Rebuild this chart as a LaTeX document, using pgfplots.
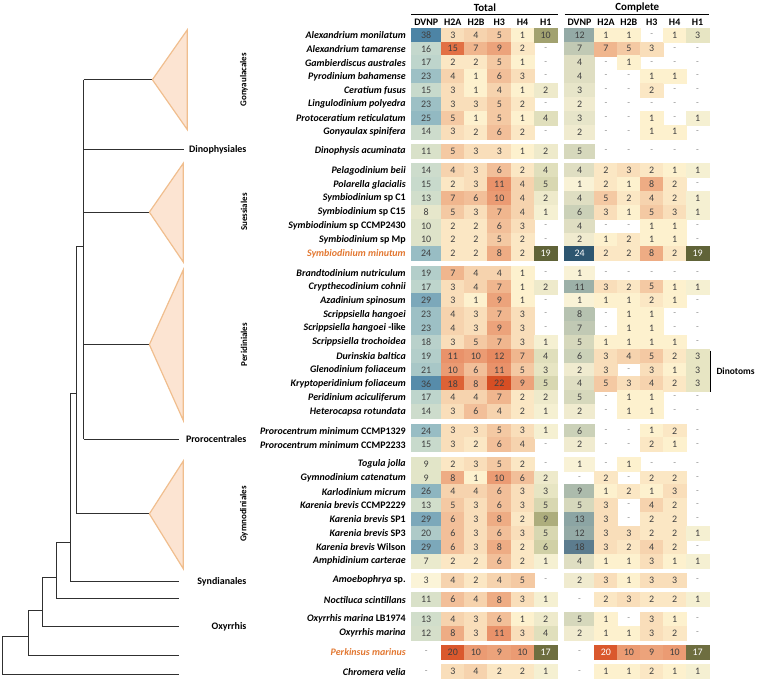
\documentclass[border=0pt]{standalone}
\usepackage{fontspec}
\setmainfont{Carlito}
\usepackage{pgfplots}
\usepackage{pgfplotstable}
\pgfplotsset{compat=1.18}

\definecolor{numc}{HTML}{404040}
\definecolor{dashc}{HTML}{8A8A8A}
\definecolor{hl}{RGB}{226,120,50}
\definecolor{tri}{HTML}{FCE4D2}
\definecolor{triedge}{HTML}{F0BE8E}
\definecolor{treec}{HTML}{303030}

\pgfplotsset{
  colormap={dvnpT}{rgb255(3)=(251,244,216) rgb255(9)=(226,229,200) rgb255(16)=(196,216,205) rgb255(24)=(152,189,196) rgb255(30)=(118,164,184) rgb255(38)=(77,132,165)},
  colormap={dvnpC}{rgb255(1)=(249,242,214) rgb255(5)=(214,216,188) rgb255(9)=(172,187,172) rgb255(13)=(140,165,164) rgb255(18)=(92,124,142) rgb255(24)=(46,86,112)},
  colormap={hist}{rgb255(1)=(253,241,206) rgb255(3)=(249,222,186) rgb255(5)=(244,201,163) rgb255(8)=(238,172,132) rgb255(11)=(233,146,106) rgb255(15)=(226,112,68) rgb255(20)=(218,88,45) rgb255(22)=(214,78,36)},
  colormap={hone}{rgb255(1)=(245,240,210) rgb255(4)=(224,223,188) rgb255(6)=(208,208,166) rgb255(10)=(162,162,112) rgb255(17)=(110,110,64) rgb255(19)=(96,99,56)},
}

% 0 stands for "-"
\pgfplotstableread[col sep=comma]{
pos,tD,t2A,t2B,t3,t4,t1,cD,c2A,c2B,c3,c4,c1,name
0,38,3,4,5,1,10,12,1,1,0,1,3,\textit{Alexandrium monilatum}
1,16,15,7,9,2,0,7,7,5,3,0,0,\textit{Alexandrium tamarense}
2,17,2,2,5,1,0,4,0,1,0,0,0,\textit{Gambierdiscus australes}
3,23,4,1,6,3,0,4,0,0,1,1,0,\textit{Pyrodinium bahamense}
4,15,3,1,4,1,2,3,0,0,2,0,0,\textit{Ceratium fusus}
5,23,3,3,5,2,0,2,0,0,0,0,0,\textit{Lingulodinium polyedra}
6,25,5,1,5,1,4,3,0,0,1,0,1,\textit{Protoceratium reticulatum}
7,14,3,2,6,2,0,2,0,0,1,1,0,\textit{Gonyaulax spinifera}
8.4,11,5,3,3,1,2,5,0,0,0,0,0,\textit{Dinophysis acuminata}
9.8,14,4,3,6,2,4,4,2,3,2,1,1,\textit{Pelagodinium beii}
10.8,15,2,3,11,4,5,1,2,1,8,2,0,\textit{Polarella glacialis}
11.8,13,7,6,10,4,2,4,5,2,4,2,1,\textit{Symbiodinium} sp C1
12.8,8,5,3,7,4,1,6,3,1,5,3,1,\textit{Symbiodinium} sp C15
13.8,10,2,2,6,3,0,4,0,0,1,1,0,\textit{Symbiodinium} sp CCMP2430
14.8,10,2,2,5,2,0,2,1,2,1,1,0,\textit{Symbiodinium} sp Mp
15.8,24,2,2,8,2,19,24,2,2,8,2,19,\textcolor{hl}{\textit{Symbiodinium minutum}}
17.2,19,7,4,4,1,0,1,0,0,0,0,0,\textit{Brandtodinium nutriculum}
18.2,17,3,4,7,1,2,11,3,2,5,1,1,\textit{Crypthecodinium cohnii}
19.2,29,3,1,9,1,0,1,1,1,2,1,0,\textit{Azadinium spinosum}
20.2,23,4,3,7,3,0,8,0,1,1,0,0,\textit{Scrippsiella hangoei}
21.2,23,4,3,9,3,0,7,0,1,1,0,0,\textit{Scrippsiella hangoei} -like
22.2,18,3,5,7,3,1,5,1,1,1,1,0,\textit{Scrippsiella trochoidea}
23.2,19,11,10,12,7,4,6,3,4,5,2,3,\textit{Durinskia baltica}
24.2,21,10,6,11,5,3,2,3,0,3,1,3,\textit{Glenodinium foliaceum}
25.2,36,18,8,22,9,5,4,5,3,4,2,3,\textit{Kryptoperidinium foliaceum}
26.2,17,4,4,7,2,2,5,0,1,1,0,0,\textit{Peridinium aciculiferum}
27.2,14,3,6,4,2,1,2,0,1,1,0,0,\textit{Heterocapsa rotundata}
28.6,24,3,3,5,3,1,6,0,0,1,2,0,\textit{Prorocentrum minimum} CCMP1329
29.6,15,3,2,6,4,0,2,0,0,2,1,0,\textit{Prorocentrum minimum} CCMP2233
31,9,2,3,5,2,0,1,0,1,0,0,0,\textit{Togula jolla}
32,9,8,1,10,6,2,0,2,0,2,2,0,\textit{Gymnodinium catenatum}
33,26,4,4,6,3,3,9,1,2,1,3,0,\textit{Karlodinium micrum}
34,13,5,3,6,3,5,5,3,0,4,2,0,\textit{Karenia brevis} CCMP2229
35,29,6,3,8,2,9,13,3,0,2,2,0,\textit{Karenia brevis} SP1
36,20,6,3,6,3,5,12,3,3,2,2,1,\textit{Karenia brevis} SP3
37,29,6,3,8,2,6,18,3,2,4,2,0,\textit{Karenia brevis} Wilson
38,7,2,2,6,2,1,4,1,1,3,1,1,\textit{Amphidinium carterae}
39.4,3,4,2,4,5,0,2,3,1,3,3,0,\textit{Amoebophrya} sp.
40.8,11,6,4,8,3,1,0,2,3,2,2,1,\textit{Noctiluca scintillans}
42.2,13,4,3,6,1,2,5,1,0,3,1,0,\textit{Oxyrrhis marina} LB1974
43.2,12,8,3,11,3,4,2,1,1,3,2,0,\textit{Oxyrrhis marina}
44.6,0,20,10,9,10,17,0,20,10,9,10,17,\textcolor{hl}{\textit{Perkinsus marinus}}
46,0,3,4,2,2,1,0,1,1,2,1,1,\textit{Chromera velia}
}\hdata

\pgfplotsset{
  cellnum/.style={only marks, mark=none, nodes near coords,
    nodes near coords style={anchor=center, font=\fontsize{10}{12}\selectfont, text=#1}},
}

% #1 column, #2 x centre, #3 colormap, #4 min, #5 max, #6 cell xscale, #7 white text above
\newcommand\heat[7]{%
  \addplot[scatter, only marks, mark=square*, mark size=7.05pt,
    mark options={xscale=#6},
    colormap name=#3, point meta min=#4, point meta max=#5,
    point meta=\thisrow{#1},
    restrict expr to domain={\thisrow{#1}}{0.5:100},
    scatter/use mapped color={draw=mapped color, fill=mapped color}]
    table[x expr=#2, y expr=33+13.9*\thisrow{pos}] {\hdata};
  \addplot[cellnum=numc, point meta=\thisrow{#1},
    restrict expr to domain={\thisrow{#1}}{0.5:#7}]
    table[x expr=#2, y expr=33+13.9*\thisrow{pos}] {\hdata};
  \addplot[cellnum=white, point meta=\thisrow{#1},
    restrict expr to domain={\thisrow{#1}}{#7:200}]
    table[x expr=#2, y expr=33+13.9*\thisrow{pos}] {\hdata};
  \addplot[only marks, mark=none,
    restrict expr to domain={\thisrow{#1}}{-1:0.5},
    nodes near coords={-},
    nodes near coords style={anchor=center, font=\fontsize{9}{11}\selectfont, text=dashc}]
    table[x expr=#2, y expr=33+13.9*\thisrow{pos}] {\hdata};
}
\newcommand\colhead[2]{\node[font=\fontsize{10}{12}\selectfont\bfseries] at (axis cs:#1,20.5) {#2};}
\newcommand\cladeV[2]{\node[rotate=90, font=\fontsize{9}{11}\selectfont\bfseries] at (axis cs:245,#1) {#2};}
\newcommand\cladeH[2]{\node[anchor=east, font=\fontsize{10}{12}\selectfont\bfseries] at (axis cs:251,#1) {#2};}

\begin{document}
\begin{tikzpicture}
\begin{axis}[
  x=1pt, y=1pt, xmin=0, xmax=758, ymin=0, ymax=681,
  y dir=reverse, hide axis, clip=false,
  point meta rel=per plot,
  /pgf/number format/assume math mode=true,
]
\addplot[draw=none] coordinates {(0,0) (758,681)};

% tree
\addplot[treec, line width=0.8pt] coordinates {(29,637) (2,637) (2,675) (180,675)};
\addplot[treec, line width=0.8pt] coordinates {(43,611) (29,611) (29,656) (180,656)};
\addplot[treec, line width=0.8pt] coordinates {(57,578) (43,578) (43,627) (180,627)};
\addplot[treec, line width=0.8pt] coordinates {(71,543) (57,543) (57,599) (180,599)};
\addplot[treec, line width=0.8pt] coordinates {(77,393) (71,393) (71,582) (180,582)};
\addplot[treec, line width=0.8pt] coordinates {(84,245) (77,245) (77,514) (150,514)};
\addplot[treec, line width=0.8pt] coordinates {(84,78) (84,439)};
\addplot[treec, line width=0.8pt] coordinates {(84,78) (153,78)};
\addplot[treec, line width=0.8pt] coordinates {(84,148) (185,148)};
\addplot[treec, line width=0.8pt] coordinates {(84,211) (150,211)};
\addplot[treec, line width=0.8pt] coordinates {(84,344) (150,344)};
\addplot[treec, line width=0.8pt] coordinates {(84,439) (180,439)};

% collapsed clades
\addplot[fill=tri, draw=triedge, line width=1.2pt] coordinates {(153,78) (188,28) (188,128) (153,78)};
\addplot[fill=tri, draw=triedge, line width=1.2pt] coordinates {(150,211) (184,162) (184,261) (150,211)};
\addplot[fill=tri, draw=triedge, line width=1.2pt] coordinates {(150,344) (184,269) (184,420) (150,344)};
\addplot[fill=tri, draw=triedge, line width=1.2pt] coordinates {(150,514) (184,461) (184,569) (150,514)};

% heat cells
\heat{tD}{428}{dvnpT}{3}{38}{2.14}{100}
\heat{t2A}{454.7}{hist}{1}{22}{1.665}{100}
\heat{t2B}{478}{hist}{1}{22}{1.665}{100}
\heat{t3}{501.4}{hist}{1}{22}{1.665}{100}
\heat{t4}{524.7}{hist}{1}{22}{1.665}{100}
\heat{t1}{548}{hone}{1}{19}{1.665}{15}
\heat{cD}{582}{dvnpC}{1}{24}{2.14}{20}
\heat{c2A}{608.5}{hist}{1}{22}{1.645}{19}
\heat{c2B}{631.5}{hist}{1}{22}{1.645}{100}
\heat{c3}{654.5}{hist}{1}{22}{1.645}{100}
\heat{c4}{677.5}{hist}{1}{22}{1.645}{100}
\heat{c1}{700.5}{hone}{1}{19}{1.645}{15}

% species names
\addplot[only marks, mark=none, point meta=explicit symbolic,
  nodes near coords,
  nodes near coords style={anchor=east, font=\fontsize{10}{12}\selectfont\bfseries, text=black}]
  table[x expr=411, y expr=33+13.9*\thisrow{pos}, meta=name] {\hdata};

% headers
\node[font=\fontsize{11}{13}\selectfont\bfseries] at (axis cs:487,6) {Total};
\node[font=\fontsize{11}{13}\selectfont\bfseries] at (axis cs:640,6) {Complete};
\draw[line width=0.8pt] (axis cs:413,12.5) -- (axis cs:560,12.5);
\draw[line width=0.8pt] (axis cs:567,12.5) -- (axis cs:712,12.5);
\colhead{428}{DVNP}
\colhead{454.7}{H2A}
\colhead{478}{H2B}
\colhead{501.4}{H3}
\colhead{524.7}{H4}
\colhead{548}{H1}
\colhead{582}{DVNP}
\colhead{608.5}{H2A}
\colhead{631.5}{H2B}
\colhead{654.5}{H3}
\colhead{677.5}{H4}
\colhead{700.5}{H1}

% clade labels
\cladeV{78}{Gonyaulacales}
\cladeV{211}{Suessiales}
\cladeV{344}{Peridiniales}
\cladeV{514}{Gymnodiniales}
\cladeH{148}{Dinophysiales}
\cladeH{439}{Prorocentrales}
\cladeH{582}{Syndianales}
\cladeH{627}{Oxyrrhis}

% dinotoms
\draw[line width=1pt] (axis cs:714,350) -- (axis cs:714,392);
\node[anchor=west, font=\fontsize{9.5}{11}\selectfont\bfseries] at (axis cs:716,371) {Dinotoms};
\end{axis}
\end{tikzpicture}
\end{document}
